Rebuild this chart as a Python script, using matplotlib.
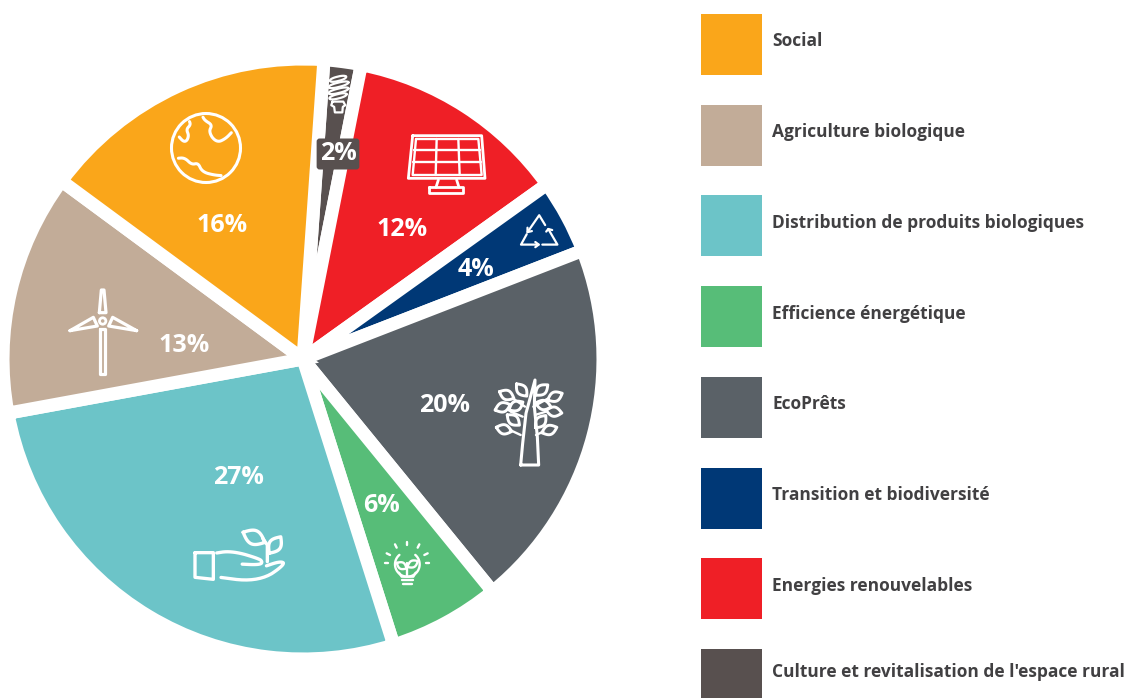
import matplotlib
matplotlib.use('Agg')
import matplotlib.pyplot as plt
import numpy as np
from matplotlib.patches import Circle

plt.rcParams['font.family'] = ['Open Sans', 'DejaVu Sans']

categories = ['Social', 'Agriculture biologique', 'Distribution de produits biologiques',
              'Efficience énergétique', 'EcoPrêts', 'Transition et biodiversité',
              'Energies renouvelables', "Culture et revitalisation de l'espace rural"]
# clockwise from the top of the pie
pie_order = [7, 6, 5, 4, 3, 2, 1, 0]
shares = [16, 13, 27, 6, 20, 4, 12, 2]
colors = ['#FAA61A', '#C2AC98', '#6CC4C8', '#57BD78', '#5A6167', '#003876', '#EF1F26', '#58504F']

W, H = 1127, 698
fig = plt.figure(figsize=(W / 100, H / 100), dpi=100)
ax = fig.add_axes([0, 0, 1, 1])
ax.set_xlim(0, W)
ax.set_ylim(0, H)
ax.axis('off')


def py(y):
    return H - y


# pie, white wedge edges make the gaps
ax.pie([shares[i] for i in pie_order], colors=[colors[i] for i in pie_order],
       center=(303, py(359)), radius=300, startangle=86, counterclock=False,
       wedgeprops={'edgecolor': 'white', 'linewidth': 9.4}, frame=True)
ax.set_xlim(0, W)
ax.set_ylim(0, H)
ax.set_aspect('equal')
ax.axis('off')

# percentage labels
label_xy = [(222, 225), (184, 346), (238, 477), (381, 505), (445, 405), (476, 270), (402, 230)]
for i, (x, y) in enumerate(label_xy):
    ax.text(x, py(y), '{}%'.format(shares[i]), color='white', fontsize=18, fontweight='bold',
            ha='center', va='center')
# the smallest slice is narrower than its label
ax.text(338, py(154), '{}%'.format(shares[7]), color='white', fontsize=18, fontweight='bold',
        ha='center', va='center',
        bbox={'boxstyle': 'round,pad=0.12', 'fc': colors[7], 'ec': 'none'})

# legend
for i, name in enumerate(categories):
    top = 14 + i * 90.7
    ax.add_patch(plt.Rectangle((701, py(top + 61)), 61, 61, color=colors[i], lw=0))
    # last row sits higher, its square runs off the bottom edge
    ax.text(772, py(top + (27.5 if i < 7 else 23)), name, fontsize=12.55, fontweight='bold',
            color='#414042', ha='left', va='center')


# icon helpers, points are given at 3x around an origin in pixels
def stroke(ox, oy, pts, closed=False, lw=2.2, k=1 / 3, smooth=False):
    pts = np.array(pts, dtype=float)
    if closed:
        pts = np.vstack([pts, pts[:1]])
    if smooth:
        idx = np.linspace(0, len(pts) - 1, (len(pts) - 1) * 8 + 1)
        xs = np.interp(idx, np.arange(len(pts)), pts[:, 0])
        ys = np.interp(idx, np.arange(len(pts)), pts[:, 1])
        box = np.ones(9) / 9
        xs = np.convolve(np.pad(xs, 4, mode='edge'), box, mode='valid')
        ys = np.convolve(np.pad(ys, 4, mode='edge'), box, mode='valid')
        pts = np.c_[xs, ys]
    ax.plot(ox + pts[:, 0] * k, py(oy + pts[:, 1] * k), color='white', lw=lw,
            solid_capstyle='round', solid_joinstyle='round')


def leaf(ox, oy, cx, cy, length, width, angle, lw=2.2):
    t = np.linspace(0, 1, 25)
    xs = np.r_[t, t[::-1]] - 0.5
    ys = np.r_[np.sin(np.pi * t), -np.sin(np.pi * t[::-1])] * width / 2
    a = np.radians(angle)
    px = cx + xs * length * np.cos(a) - ys * np.sin(a)
    pz = cy + xs * length * np.sin(a) + ys * np.cos(a)
    stroke(ox, oy, np.c_[px, pz], lw=lw)


# globe
ax.add_patch(Circle((206, py(148)), 34.5, fc='none', ec='white', lw=2.2))
stroke(150, 60, [(118, 183), (122, 195), (108, 208), (118, 228), (105, 250), (85, 228)], smooth=True)
stroke(150, 60, [(158, 170), (165, 182), (188, 195), (175, 215), (198, 248), (225, 238), (247, 215)], smooth=True)
stroke(150, 60, [(82, 295), (105, 293), (125, 315), (145, 308), (155, 335), (190, 345), (217, 347)], smooth=True)

# spiral bulb
bx, by, s = 338, 92, 0.24
for cx, cy, w in [(558, 55, 30), (560, 80, 38), (560, 105, 38), (558, 128, 32)]:
    t = np.linspace(0, 2 * np.pi, 40)
    xs = w * np.cos(t) + 5 * np.sign(np.cos(t))
    ys = 9 * np.sin(t)
    a = np.radians(-14)
    stroke(bx - 558 * s, by - 110 * s,
           np.c_[cx + xs * np.cos(a) - ys * np.sin(a), cy + xs * np.sin(a) + ys * np.cos(a)],
           lw=1.6, k=s)
stroke(bx - 558 * s, by - 110 * s,
       [(535, 150), (580, 150), (588, 165), (578, 172), (576, 195), (545, 195), (542, 172), (530, 165)],
       closed=True, lw=1.6, k=s)

# solar panel
stroke(400, 125, [(38, 32), (245, 32), (255, 160), (25, 160)], closed=True, lw=2)
stroke(400, 125, [(48, 42), (235, 42), (245, 150), (38, 150)], closed=True, lw=1.7)
stroke(400, 125, [(43, 75), (240, 75)], lw=1.7)
stroke(400, 125, [(40, 112), (243, 112)], lw=1.7)
stroke(400, 125, [(110, 42), (107, 150)], lw=1.7)
stroke(400, 125, [(175, 42), (179, 150)], lw=1.7)
stroke(400, 125, [(115, 165), (108, 187)], lw=2)
stroke(400, 125, [(170, 165), (177, 187)], lw=2)
stroke(400, 125, [(88, 187), (190, 187), (190, 205), (88, 205)], closed=True, lw=2)

# recycling triangle, scaled down to stay inside its slice
rx, ry, rk = 430, 138, 0.26
stroke(rx, ry, [(375, 362), (420, 297), (443, 335)], lw=1.6, k=rk)
stroke(rx, ry, [(375, 345), (375, 362), (392, 358)], lw=1.6, k=rk)
stroke(rx, ry, [(372, 370), (350, 410), (418, 410)], lw=1.6, k=rk)
stroke(rx, ry, [(405, 400), (418, 410), (405, 420)], lw=1.6, k=rk)
stroke(rx, ry, [(432, 410), (490, 410), (455, 350)], lw=1.6, k=rk)
stroke(rx, ry, [(447, 360), (455, 350), (470, 354)], lw=1.6, k=rk)

# tree
stroke(480, 370, [(122, 285), (128, 220), (138, 130), (165, 30), (163, 110), (172, 200), (176, 285)],
       closed=True, lw=2.2)
tree_leaves = [(80, 75, 25), (125, 60, 50), (185, 60, -40), (225, 80, -25), (68, 112, -20), (108, 108, -30),
               (190, 105, 15), (222, 125, 10), (100, 150, 40), (182, 155, -50), (72, 178, 15), (208, 180, -20)]
for lx, ly, la in tree_leaves:
    leaf(480, 370, lx, ly, 48, 28, la, lw=2.1)
stroke(480, 370, [(98, 85), (135, 110)], lw=1.7)
stroke(480, 370, [(92, 125), (128, 140)], lw=1.7)
stroke(480, 370, [(90, 180), (122, 195)], lw=1.7)
stroke(480, 370, [(205, 85), (160, 110)], lw=1.7)
stroke(480, 370, [(198, 125), (165, 135)], lw=1.7)
stroke(480, 370, [(190, 185), (168, 195)], lw=1.7)

# hand holding a plant
stroke(180, 520, [(45, 98), (100, 98), (100, 178), (45, 172)], closed=True, lw=2.4)
stroke(180, 520, [(103, 100), (155, 92), (235, 115), (248, 125), (240, 135), (178, 132)], lw=2.4, smooth=True)
stroke(180, 520, [(105, 170), (235, 187), (315, 135), (305, 122), (252, 140)], lw=2.4, smooth=True)
stroke(180, 520, [(262, 125), (262, 75), (248, 55)], lw=2.4)
leaf(180, 520, 222, 52, 72, 42, 25, lw=2.4)
leaf(180, 520, 285, 75, 60, 36, -55, lw=2.4)

# bulb with leaves
t = np.radians(np.linspace(130, 410, 60))
stroke(375, 535, np.c_[97 + 37 * np.cos(t), 88 - 37 * np.sin(t)], lw=1.7)
stroke(375, 535, [(72, 113), (80, 125), (115, 125), (122, 113)], lw=1.7)
stroke(375, 535, [(80, 135), (115, 135)], lw=1.7)
stroke(375, 535, [(85, 147), (110, 147)], lw=1.7)
for seg in [[(97, 20), (97, 30)], [(60, 28), (65, 38)], [(133, 28), (128, 38)], [(35, 55), (45, 60)],
            [(158, 55), (148, 60)], [(30, 85), (40, 85)], [(163, 85), (153, 85)]]:
    stroke(375, 535, seg, lw=1.7)
stroke(375, 535, [(97, 122), (97, 85)], lw=1.7)
leaf(375, 535, 80, 92, 34, 20, 30, lw=1.7)
leaf(375, 535, 113, 87, 36, 20, -30, lw=1.7)

# wind turbine
ax.add_patch(Circle((60 + 128 / 3, py(280 + 123 / 3)), 3.2, fc='none', ec='white', lw=2))
stroke(60, 280, [(118, 98), (138, 98), (132, 30), (124, 30)], closed=True, lw=2.3)
stroke(60, 280, [(30, 152), (100, 112), (112, 138)], closed=True, lw=2.3)
stroke(60, 280, [(230, 152), (158, 112), (146, 138)], closed=True, lw=2.3)
stroke(60, 280, [(120, 148), (136, 148), (136, 283), (120, 283)], closed=True, lw=2.3)

fig.savefig('out.png', dpi=100)
